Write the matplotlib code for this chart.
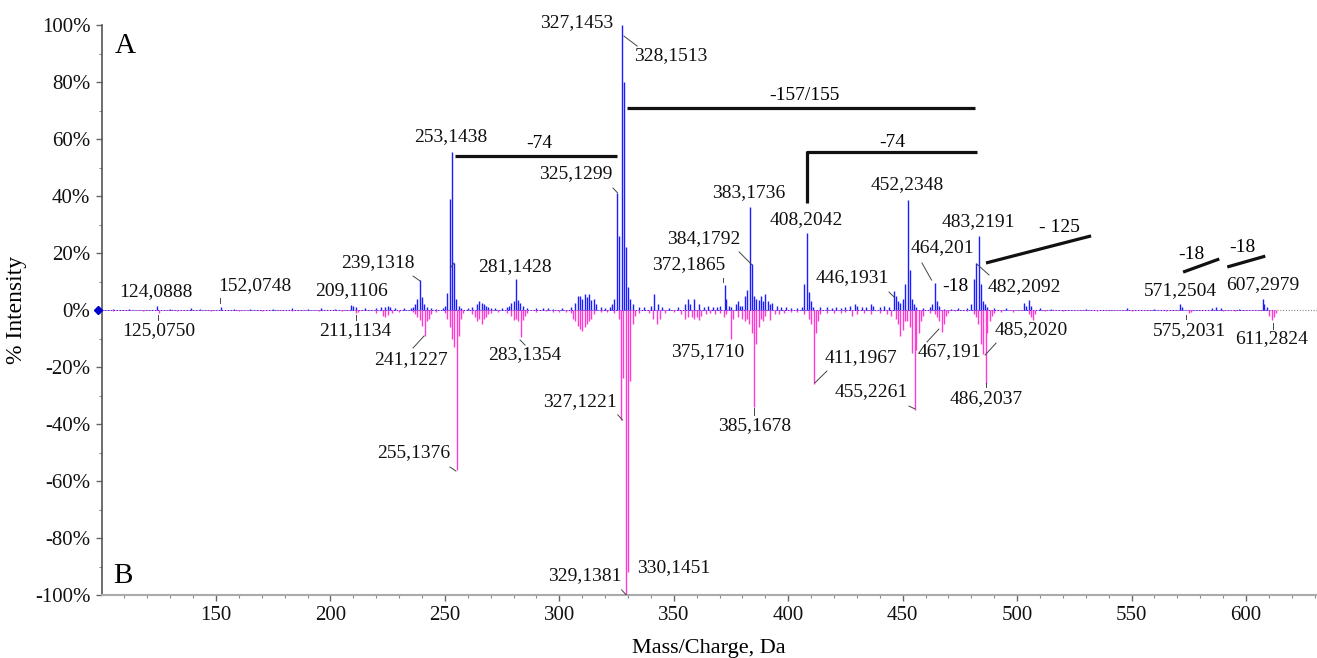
import matplotlib
matplotlib.use("Agg")
import matplotlib.pyplot as plt
import numpy as np

# ---------------- data ----------------
# Spectrum A (upward, blue): m/z and % intensity
blue_mz = [105, 112, 124.09, 130, 139, 143, 152.07, 158, 165, 175, 183, 190, 196, 202,
           209.11, 210, 211, 215, 220, 222, 224, 225, 226, 228, 232, 235, 236, 237, 238,
           239.13, 240, 241, 242, 244, 246, 249, 250, 251, 252, 253.14, 254, 255, 256, 257,
           260, 262, 264, 265, 266, 267, 268, 269, 270, 272, 275, 277, 278, 279, 280,
           281.14, 282, 283, 284, 286, 290, 293, 295, 297, 301, 305, 307, 308, 309, 310,
           311, 312, 313, 314, 315, 316, 318, 320, 322, 323, 324, 325.13, 326, 327.15,
           328.15, 329, 330, 331, 332, 335, 337, 340, 341.5, 343, 345, 348, 352, 355, 356,
           357, 359, 361, 363, 365, 367, 369, 370, 372.19, 373, 374, 375, 377, 378, 379,
           380, 381, 382, 383.17, 384.18, 385, 386, 387, 388, 389, 390, 391, 392, 393, 395,
           397, 399, 401, 404, 406, 407, 408.2, 409, 410, 411, 414, 417, 419, 421, 423,
           425, 427, 429, 430, 432, 434, 436, 437, 440, 442, 444, 446.19, 447, 448, 449,
           450, 451, 452.23, 453, 454, 455, 456, 459, 462, 463, 464.2, 465, 466, 468, 471,
           474, 478, 480, 481, 482.21, 483.22, 484, 485, 486, 487, 490, 495, 503, 504, 505,
           506, 510, 515, 530, 548, 560, 571.25, 572, 585, 587, 589, 597, 607.3, 608, 609]
blue_int = [0.5, 0.5, 1.5, 0.5, 0.6, 0.5, 1.2, 0.5, 0.5, 0.4, 0.6, 0.5, 0.6, 0.5,
            1.8, 1.5, 1.0, 0.6, 0.8, 1.0, 1.2, 1.5, 1.0, 0.7, 0.6, 0.8, 1.2, 2.0, 4.0,
            10.5, 4.5, 2.0, 1.0, 0.6, 0.5, 0.8, 1.5, 6.0, 39, 55.5, 16.5, 4, 1.5, 0.8,
            0.7, 1.0, 2.0, 3.0, 2.5, 2.0, 1.5, 1.2, 0.8, 0.6, 0.6, 1.0, 1.5, 2.5, 3.0,
            11, 3.5, 2.5, 1.5, 0.6, 0.6, 0.8, 0.7, 0.5, 0.6, 1.0, 2.5, 5, 5, 4,
            5.5, 4.5, 5.5, 3.5, 4, 2, 1.0, 0.7, 1.0, 2.0, 4, 41, 26, 100,
            80, 22, 8, 4, 2, 1.0, 1.2, 1.5, 5.5, 2, 1, 0.8, 1.0, 2.0, 3.8,
            2, 3.8, 2, 1, 1.5, 1.2, 1.0, 1.5, 8.8, 4, 1.5, 1.0, 2.0, 3, 1.5,
            1.5, 5, 7, 36, 16, 5, 4, 3.5, 5, 3, 5.5, 3, 2, 2.5, 1.5,
            1.2, 1.0, 0.8, 0.6, 1.0, 9, 27, 6.3, 3, 1, 1.0, 1.2, 0.6, 1.2, 0.8,
            1.0, 1.5, 2, 1.5, 1.0, 1.2, 2, 1.5, 1.0, 1.5, 1.0, 6.5, 5, 3, 2.5,
            4, 9, 38.5, 14, 4, 2, 1, 0.8, 1.0, 2, 9.4, 3, 1.5, 0.5, 0.4,
            0.6, 0.8, 2, 11, 16.5, 26, 9, 3, 2, 1.0, 0.6, 0.8, 2.5, 1.5, 3.5,
            1.5, 0.6, 0.4, 0.4, 0.6, 0.4, 2, 1.0, 0.8, 1.0, 0.6, 0.4, 4, 2, 1.0]

# Spectrum B (downward, magenta): m/z and % intensity
pink_mz = [105, 118, 125.08, 133, 148, 160, 170, 183, 195, 205, 211.11, 212, 220, 223,
           224, 225, 227, 230, 236, 237, 238, 239, 240, 241.12, 242, 243, 244, 246, 250,
           251, 252, 253, 254, 255.14, 256, 257, 258, 262, 263, 264, 265, 266, 267, 268,
           269, 270, 273, 277, 279, 280, 281, 282, 283.14, 284, 285, 286, 290, 294, 297,
           300, 303, 305, 306, 307, 308, 309, 310, 311, 312, 313, 314, 315, 318, 321,
           324, 326, 327.12, 328, 329.14, 330.15, 331, 332, 333, 335, 339, 341, 342.5, 344,
           346, 350, 353, 355, 356, 358, 359, 360, 361, 362, 364, 366, 368, 370, 372, 373,
           375.17, 376, 378, 380, 381, 382, 383, 384, 385.17, 386, 387, 388, 389, 390, 392,
           394, 396, 398, 401, 404, 407, 409, 410, 411.2, 412, 413, 414, 417, 420, 423,
           425, 428, 430, 433, 436, 440, 443, 445, 447, 448, 449, 450, 451, 452, 453, 454,
           455.23, 456, 457, 458, 459, 462, 464, 465, 466, 467.19, 468, 469, 470, 473, 478,
           481, 482, 483, 484, 485.2, 486.2, 487, 488, 489, 490, 493, 498, 505, 506, 507,
           508, 512, 520, 535, 550, 565, 575.2, 576, 590, 595, 610, 611.28, 612, 613]
pink_int = [0.3, 0.4, 1.0, 0.4, 0.4, 0.4, 0.4, 0.4, 0.5, 0.5, 1.2, 0.8, 1.0, 2.0,
            2.5, 1.8, 1.0, 0.6, 0.8, 1.5, 2.5, 3.5, 5.5, 9, 4, 3, 1.5, 0.6, 1,
            3, 6, 10, 13, 56, 9, 3, 1, 1.5, 2.5, 4, 3, 5, 3, 2.5,
            1.5, 1, 0.6, 1.0, 2.0, 3.5, 3, 4, 9.5, 3.5, 2, 1, 0.6, 0.5, 0.8,
            0.6, 0.8, 1.2, 3, 4, 5.5, 6.5, 7.5, 6, 5, 4, 3, 1.5, 0.8, 0.6,
            1, 3, 38.5, 24, 100, 92, 25, 5, 2, 1.0, 1.0, 3, 5, 3,
            1, 0.8, 1.5, 3, 2.5, 2.5, 3, 2.5, 3.5, 2, 1.5, 1, 1.5, 1.0, 2.5, 1.5,
            10, 3, 2.5, 3, 4, 3, 5, 8, 34, 12, 6, 3, 4, 2, 3.5,
            1.5, 1.5, 1, 0.8, 0.6, 1.5, 3, 5, 26, 8, 4, 1.5, 1, 1, 1.2,
            0.8, 2, 1.5, 1.0, 1.5, 1.0, 1.5, 2, 3, 5, 9, 7, 4, 4, 6, 15,
            35, 14, 8, 4, 2, 1, 1.5, 2.5, 4, 7.7, 5, 2, 1, 0.5, 0.5,
            1.5, 2.5, 5, 12, 15.5, 26, 8, 4, 2, 1, 0.6, 0.6, 1.5, 2.5, 3.5,
            1.5, 0.5, 0.4, 0.4, 0.4, 0.4, 1.2, 0.6, 0.5, 0.5, 2, 3.5, 2.5, 1]

x_ticks = [150, 200, 250, 300, 350, 400, 450, 500, 550, 600]
y_ticks = [-100, -80, -60, -40, -20, 0, 20, 40, 60, 80, 100]
y_tick_labels = ["-100%", "-80%", "-60%", "-40%", "-20%", "0%", "20%", "40%", "60%", "80%", "100%"]

# peak labels (text)
blue_labels = ["124,0888", "152,0748", "209,1106", "239,1318", "253,1438", "281,1428",
               "327,1453", "328,1513", "325,1299", "383,1736", "384,1792", "372,1865",
               "408,2042", "446,1931", "452,2348", "464,201", "483,2191", "482,2092",
               "571,2504", "607,2979"]
pink_labels = ["125,0750", "211,1134", "241,1227", "255,1376", "283,1354", "327,1221",
               "329,1381", "330,1451", "375,1710", "385,1678", "411,1967", "455,2261",
               "467,191", "485,2020", "486,2037", "575,2031", "611,2824"]

# ---------------- layout (positions in data units) ----------------
blue_label_pos = [(123.8, 6.3), (167.0, 8.4), (209.0, 6.7), (220.7, 16.5), (252.6, 60.7),
                  (280.8, 15.4), (307.7, 100.7), (348.5, 89.1), (307.3, 47.7), (382.8, 41.1),
                  (363.2, 24.9), (356.6, 16.1), (407.8, 31.6), (427.9, 11.2), (451.9, 43.9),
                  (467.2, 21.8), (482.9, 30.9), (503.0, 8.1), (571.2, 6.7), (607.4, 8.8)]
pink_label_pos = [(125.1, -7.4), (210.7, -7.4), (235.2, -17.5), (236.5, -50.2), (284.8, -15.8),
                  (309.0, -32.3), (311.2, -93.3), (350.1, -90.5), (364.7, -14.7), (385.1, -40.4),
                  (431.8, -16.6), (436.1, -28.8), (470.2, -14.7), (506.0, -6.7), (486.4, -31.2),
                  (575.1, -7.4), (611.3, -10.2)]
leaders = [((236.1, 11.9), (239.1, 10.2)), ((252.6, 15.0), (254.0, 16.5)),
           ((328.2, 96.1), (334.0, 92.6)), ((323.4, 42.8), (325.4, 41.1)),
           ((378.5, 20.4), (384.2, 15.8)), ((371.5, 11.2), (371.5, 10.0)),
           ((444.0, 6.3), (446.2, 4.6)), ((458.4, 16.5), (462.6, 10.5)),
           ((487.7, 12.3), (482.4, 16.1)), ((151.8, 4.2), (151.8, 2.5)),
           ((236.1, -13.3), (240.9, -9.1)), ((252.2, -55.1), (254.8, -56.5)),
           ((282.8, -10.5), (285.0, -12.3)), ((325.5, -36.8), (327.6, -38.6)),
           ((327.2, -98.2), (329.7, -100.4)), ((385.0, -34.4), (385.0, -36.8)),
           ((416.9, -21.4), (411.6, -25.6)), ((452.7, -33.7), (455.3, -34.7)),
           ((460.6, -11.2), (465.8, -6.7)), ((490.8, -11.6), (486.0, -15.8)),
           ((486.3, -25.6), (486.3, -27.0)), ((573.9, -1.8), (573.9, -3.2)),
           ((611.7, -4.6), (611.7, -6.7)), ((124.6, -1.8), (124.6, -3.5)),
           ((211.1, -1.8), (211.1, -3.5))]

BLUE = "#1c1cff"
PINK = "#ff3ad2"
FONT = "Liberation Serif"

plt.rcParams["font.family"] = [FONT, "DejaVu Serif"]

fig = plt.figure(figsize=(13.17, 6.58), dpi=100)
ax = fig.add_axes([0.07715, 0.09574, 0.92285, 0.86626])
ax.set_xlim(100, 631)
ax.set_ylim(-100, 100)

# baseline
ax.axhline(0, color="#888888", lw=0.8, ls=(0, (1, 1.5)), zorder=1)
ax.plot([100, 612], [0, 0], color=BLUE, lw=0.7, ls=(0, (1, 2)), zorder=2)
ax.plot([100, 612], [0, 0], color=PINK, lw=0.7, ls=(1.5, (1, 2)), zorder=2)

bm = np.array(blue_mz); bi = np.array(blue_int)
pm = np.array(pink_mz); pi = np.array(pink_int)
ax.vlines(bm, 0, bi, color=BLUE, lw=1.0, zorder=3)
ax.vlines(pm, -pi, 0, color=PINK, lw=1.0, zorder=3)

# marker at 0
ax.plot([98.6], [0], marker="D", ms=4, color="#0000cc", clip_on=False, zorder=5)

# labels
for t, (x, y) in zip(blue_labels, blue_label_pos):
    ax.text(x, y, t, fontsize=14, ha="center", va="center", color="#111111", zorder=6)
for t, (x, y) in zip(pink_labels, pink_label_pos):
    ax.text(x, y, t, fontsize=14, ha="center", va="center", color="#111111", zorder=6)
for (p0, p1) in leaders:
    ax.plot([p0[0], p1[0]], [p0[1], p1[1]], color="#444444", lw=0.7, zorder=4)

# brackets / annotations
blk = dict(color="#111111", lw=2.3, solid_capstyle="butt", zorder=6)
ax.plot([254.4, 325.2], [54.1, 54.1], **blk)
ax.text(291.1, 58.4, "-74", fontsize=14, ha="center", va="center")
ax.plot([329.5, 481.6], [70.9, 70.9], **blk)
ax.text(406.9, 75.4, "-157/155", fontsize=14, ha="center", va="center")
ax.plot([408.0, 408.0, 482.4], [37.5, 55.4, 55.4], **blk)
ax.text(445.3, 58.6, "-74", fontsize=14, ha="center", va="center")
ax.plot([486.4, 532.3], [16.5, 26.0], **blk)
ax.text(518.6, 28.8, "- 125", fontsize=14, ha="center", va="center")
ax.text(472.8, 8.4, "-18", fontsize=14, ha="center", va="center")
ax.plot([572.5, 588.3], [13.3, 17.9], **blk)
ax.text(576.0, 19.3, "-18", fontsize=14, ha="center", va="center")
ax.plot([591.8, 608.4], [15.1, 18.9], **blk)
ax.text(598.2, 22.1, "-18", fontsize=14, ha="center", va="center")

ax.text(110.3, 92.5, "A", fontsize=21, ha="center", va="center")
ax.text(109.1, -93.3, "B", fontsize=21, ha="center", va="center")

# axes styling
for s in ["top", "right"]:
    ax.spines[s].set_visible(False)
ax.spines["left"].set_color("#555555")
ax.spines["left"].set_linewidth(1.2)
ax.spines["bottom"].set_color("#aaaaaa")
ax.spines["bottom"].set_linewidth(1.5)

ax.set_xticks(x_ticks)
ax.set_xticks(np.arange(110, 631, 10), minor=True)
ax.set_yticks(y_ticks)
ax.set_yticklabels(y_tick_labels)
ax.set_yticks(np.arange(-90, 100, 10), minor=True)
ax.tick_params(axis="both", which="major", labelsize=15, length=4, width=1,
               color="#666666", labelcolor="#111111", direction="out")
ax.tick_params(axis="both", which="minor", length=2, width=0.8, color="#888888")
ax.tick_params(axis="x", pad=4)
ax.tick_params(axis="y", pad=4)

ax.set_xlabel("Mass/Charge, Da", fontsize=16, labelpad=10)
ax.set_ylabel("% Intensity", fontsize=17, labelpad=6)

fig.savefig("out.png", dpi=100)
